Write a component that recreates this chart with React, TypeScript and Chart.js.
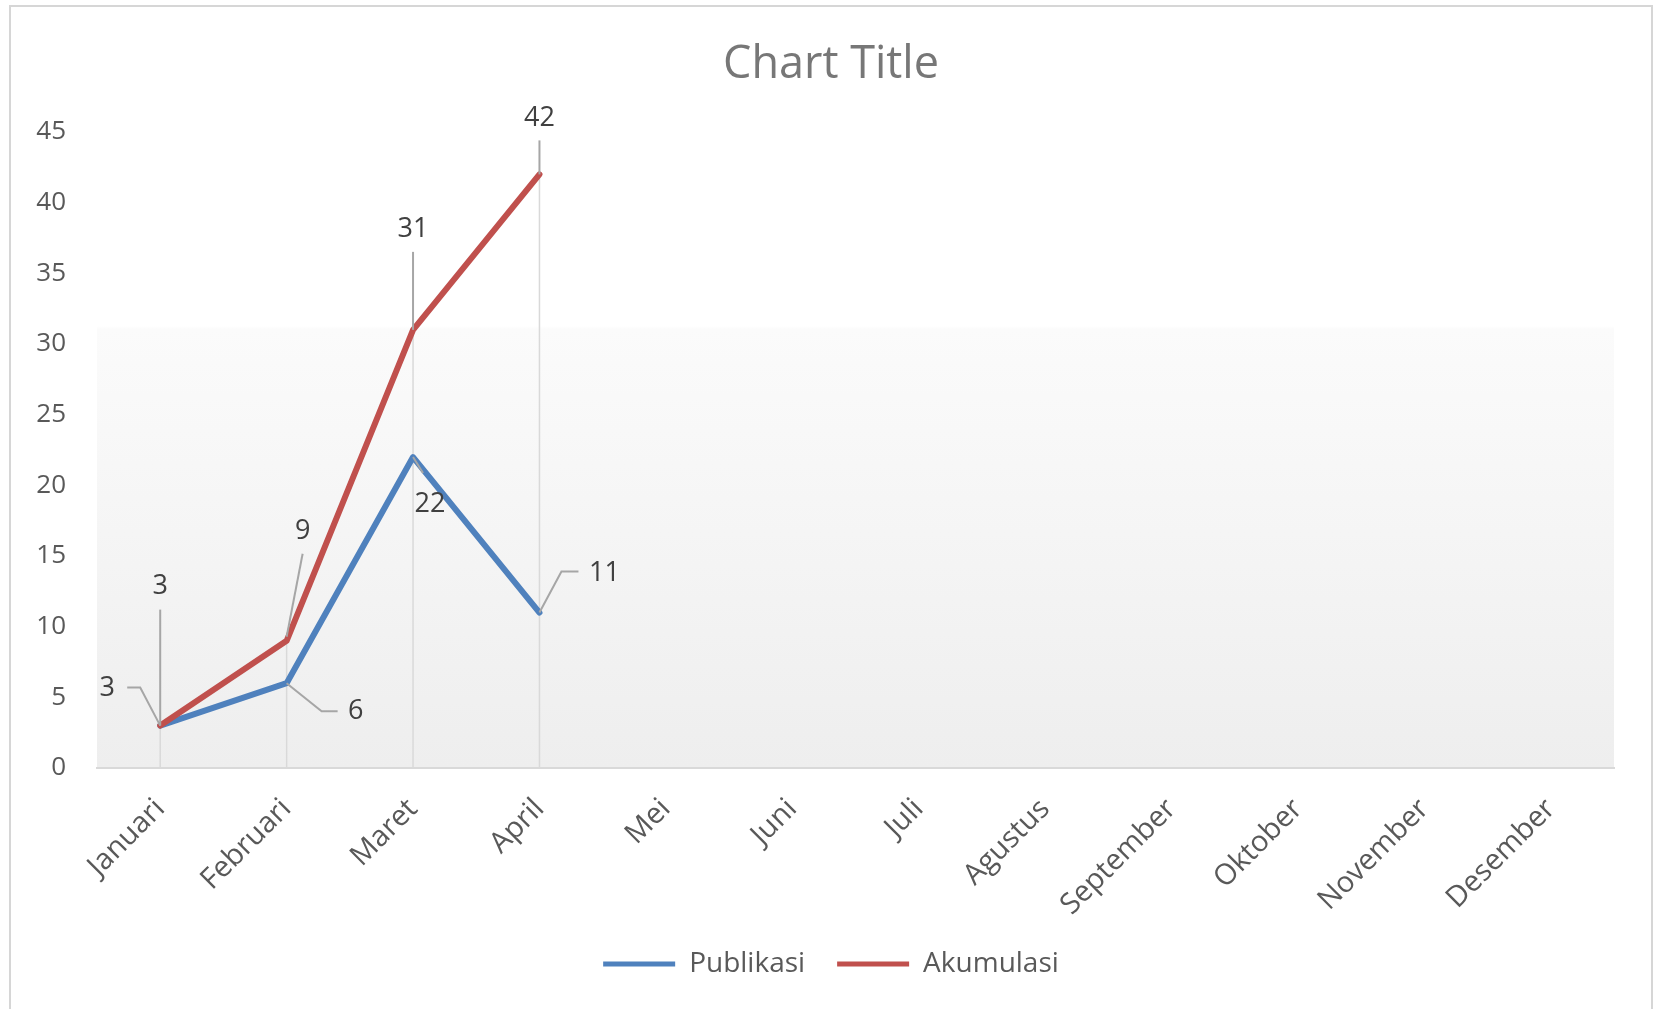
import React, { useEffect, useRef } from "react";
import { Chart, registerables } from "chart.js";

Chart.register(...registerables);

// ---- data ----
const months = [
  "Januari", "Februari", "Maret", "April", "Mei", "Juni",
  "Juli", "Agustus", "September", "Oktober", "November", "Desember",
];
const publikasi: (number | null)[] = [3, 6, 22, 11, null, null, null, null, null, null, null, null];
const akumulasi: (number | null)[] = [3, 9, 31, 42, null, null, null, null, null, null, null, null];
const seriesNames = ["Publikasi", "Akumulasi"];
const yMin = 0;
const yMax = 45;
const yStep = 5;
const chartTitle = "Chart Title";

// ---- label styling (pixel offsets relative to each point) ----
const publikasiLabelOffsets = [[-53, -37], [69, 28], [17, 47], [65, -39]];
const publikasiLeaders = [
  [[-33, -38], [-20, -38], [0, 0]],
  [[0, 0], [35, 28], [51, 28]],
  [[0, 0], [10, 16]],
  [[0, 0], [22, -41], [39, -41]],
];
const akumulasiLabelOffsets = [[0, -139], [16, -109], [0, -101], [0, -56]];
const akumulasiLeaders = [
  [[0, -116], [0, 0]],
  [[16, -87], [0, -4]],
  [[0, -78], [0, 0]],
  [[0, -34], [0, 0]],
];

const FONT = "'Open Sans', 'Noto Sans', sans-serif";
const BLUE = "#4F81BD";
const RED = "#C0504D";

const decorPlugin = {
  id: "decor",
  beforeDraw(chart: any) {
    const { ctx, width, height, chartArea } = chart;
    ctx.save();
    ctx.fillStyle = "#ffffff";
    ctx.fillRect(0, 0, width, height);
    const g = ctx.createLinearGradient(0, chartArea.top, 0, chartArea.bottom);
    g.addColorStop(0, "#ffffff");
    g.addColorStop(0.305, "#ffffff");
    g.addColorStop(0.31, "#fbfbfb");
    g.addColorStop(1, "#eeeeee");
    ctx.fillStyle = g;
    ctx.fillRect(chartArea.left, chartArea.top, chartArea.right - chartArea.left, chartArea.bottom - chartArea.top);
    ctx.strokeStyle = "#d6d6d6";
    ctx.lineWidth = 2;
    ctx.strokeRect(10, 6, width - 14, height + 20);
    ctx.restore();
  },
  beforeDatasetsDraw(chart: any) {
    const { ctx, chartArea } = chart;
    const x = chart.scales.x;
    const y = chart.scales.y;
    ctx.save();
    ctx.strokeStyle = "#d9d9d9";
    ctx.lineWidth = 1.5;
    months.forEach((_, i) => {
      const vals = [publikasi[i], akumulasi[i]].filter((v) => v !== null) as number[];
      if (!vals.length) return;
      const top = y.getPixelForValue(Math.max(...vals));
      const px = x.getPixelForValue(i);
      ctx.beginPath();
      ctx.moveTo(px, top);
      ctx.lineTo(px, chartArea.bottom);
      ctx.stroke();
    });
    ctx.restore();
  },
  afterDatasetsDraw(chart: any) {
    const { ctx } = chart;
    const x = chart.scales.x;
    const y = chart.scales.y;
    const drawSeries = (data: (number | null)[], offs: number[][], leaders: number[][][]) => {
      data.forEach((v, i) => {
        if (v === null) return;
        const px = x.getPixelForValue(i);
        const py = y.getPixelForValue(v);
        const lead = leaders[i];
        if (lead) {
          ctx.beginPath();
          lead.forEach((p, k) => {
            if (k === 0) ctx.moveTo(px + p[0], py + p[1]);
            else ctx.lineTo(px + p[0], py + p[1]);
          });
          ctx.strokeStyle = "#a6a6a6";
          ctx.lineWidth = 2;
          ctx.stroke();
        }
        const o = offs[i] || [0, -20];
        ctx.fillStyle = "#404040";
        ctx.font = `27px ${FONT}`;
        ctx.textAlign = "center";
        ctx.textBaseline = "middle";
        ctx.fillText(String(v), px + o[0], py + o[1]);
      });
    };
    ctx.save();
    drawSeries(publikasi, publikasiLabelOffsets, publikasiLeaders);
    drawSeries(akumulasi, akumulasiLabelOffsets, akumulasiLeaders);
    ctx.restore();
  },
};

export default function App() {
  const ref = useRef<HTMLCanvasElement | null>(null);
  useEffect(() => {
    document.body.style.margin = "0";
    if (!ref.current) return;
    const chart = new Chart(ref.current, {
      type: "line",
      data: {
        labels: months,
        datasets: [
          {
            label: seriesNames[0],
            data: publikasi,
            borderColor: BLUE,
            backgroundColor: BLUE,
            borderWidth: 6,
            pointRadius: 0,
            tension: 0,
            borderJoinStyle: "round",
            borderCapStyle: "round",
            order: 1,
          },
          {
            label: seriesNames[1],
            data: akumulasi,
            borderColor: RED,
            backgroundColor: RED,
            borderWidth: 6,
            pointRadius: 0,
            tension: 0,
            borderJoinStyle: "round",
            borderCapStyle: "round",
            order: 0,
          },
        ],
      },
      options: {
        animation: false,
        responsive: true,
        maintainAspectRatio: false,
        layout: { padding: { left: 6, right: 0, top: 0, bottom: 21 } },
        plugins: {
          tooltip: { enabled: false },
          title: {
            display: true,
            text: chartTitle,
            color: "#777777",
            font: { family: FONT, size: 45, weight: "normal", lineHeight: 1.2 },
            padding: { top: 38, bottom: 40 },
          },
          legend: {
            display: true,
            position: "bottom",
            labels: {
              color: "#595959",
              font: { family: FONT, size: 28 },
              boxWidth: 72,
              boxHeight: 5,
              padding: 32,
              sort: (a: any, b: any) => a.datasetIndex - b.datasetIndex,
              generateLabels: (chart: any) =>
                chart.data.datasets.map((ds: any, i: number) => ({
                  text: ds.label,
                  fillStyle: ds.borderColor,
                  strokeStyle: ds.borderColor,
                  lineWidth: 0,
                  fontColor: "#595959",
                  datasetIndex: i,
                  hidden: false,
                })),
            },
          },
        },
        scales: {
          x: {
            offset: true,
            grid: { display: false, drawTicks: false, offset: true },
            border: { display: true, color: "#d9d9d9", width: 2 },
            ticks: {
              color: "#595959",
              font: { family: FONT, size: 29 },
              minRotation: 45,
              maxRotation: 45,
              padding: 24,
              autoSkip: false,
            },
            afterFit: (s: any) => {
              s.height = 150;
            },
          },
          y: {
            min: yMin,
            max: yMax,
            grid: { display: false, drawTicks: false },
            border: { display: false },
            ticks: {
              stepSize: yStep,
              color: "#595959",
              font: { family: FONT, size: 26 },
              padding: 31,
            },
            afterFit: (s: any) => {
              s.width = 91;
            },
          },
          yRightMargin: {
            position: "right",
            min: yMin,
            max: yMax,
            grid: { display: false, drawTicks: false },
            border: { display: false },
            ticks: { display: false },
            afterFit: (s: any) => {
              s.width = 42;
            },
          },
        },
      },
      plugins: [decorPlugin],
    });
    return () => chart.destroy();
  }, []);
  return (
    <div style={{ width: 1656, height: 1009, position: "relative" }}>
      <canvas ref={ref} />
    </div>
  );
}
